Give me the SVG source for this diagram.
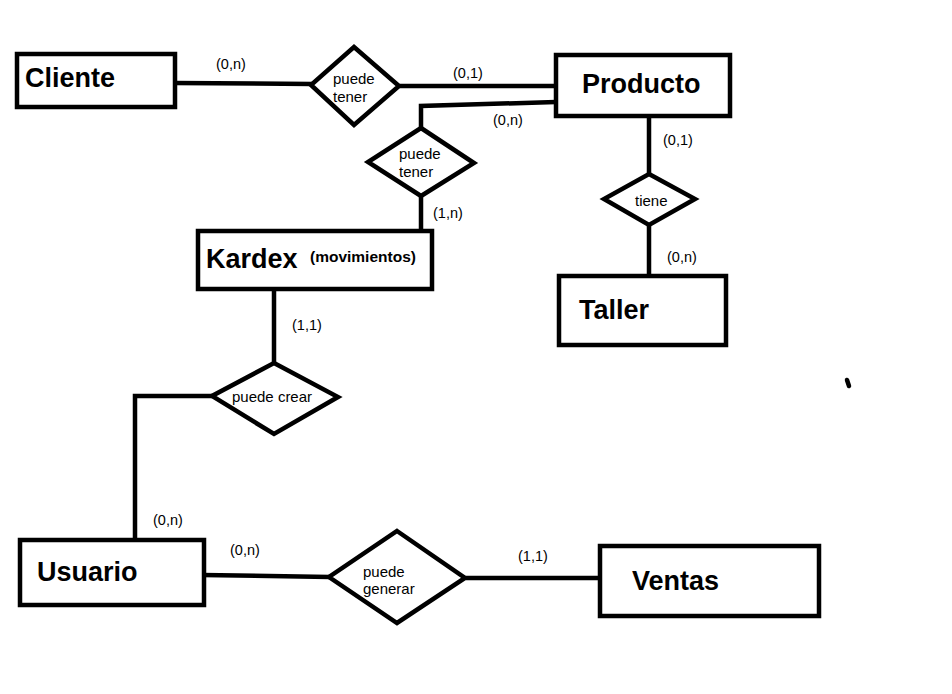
<svg xmlns="http://www.w3.org/2000/svg" width="952" height="694" viewBox="0 0 952 694">
<style>
.box{fill:#fff;stroke:#000;stroke-width:4.5}
.rel{fill:#fff;stroke:#000;stroke-width:4.5;stroke-linejoin:miter}
.ln{fill:none;stroke:#000;stroke-width:4.5;stroke-linecap:round}
.ent{font-family:"Liberation Sans",Arial,sans-serif;font-weight:bold;font-size:27px;fill:#000}
.sub{font-family:"Liberation Sans",Arial,sans-serif;font-weight:bold;font-size:15.5px;fill:#000}
.rt{font-family:"Liberation Sans",Arial,sans-serif;font-size:15px;fill:#000}
.card{font-family:"Liberation Sans",Arial,sans-serif;font-size:14.5px;fill:#000}
</style>
<rect width="952" height="694" fill="#fff"/>
<g id="connectors">
<path class="ln" d="M174,83 L312,84"/>
<path class="ln" d="M400,86 L556,86"/>
<path class="ln" d="M556,102 L421,106 L421,128"/>
<path class="ln" d="M421,197 L421,230"/>
<path class="ln" d="M649,118 L649,174"/>
<path class="ln" d="M649,226 L649,275"/>
<path class="ln" d="M274,289 L274,362"/>
<path class="ln" d="M212,396 L135,396 L135,540"/>
<path class="ln" d="M202,575 L330,577"/>
<path class="ln" d="M466,578 L600,578"/>
<path class="ln" d="M847,380 L849,386"/>
</g>
<g id="cliente">
<rect class="box" x="17" y="54" width="158" height="53"/>
<text class="ent" x="25" y="87">Cliente</text>
</g>
<g id="producto">
<rect class="box" x="556" y="55" width="174" height="61"/>
<text class="ent" x="582" y="93">Producto</text>
</g>
<g id="kardex">
<rect class="box" x="198" y="231" width="234" height="58"/>
<text class="ent" x="206" y="268">Kardex</text>
<text class="sub" x="310" y="262">(movimientos)</text>
</g>
<g id="taller">
<rect class="box" x="559" y="276" width="167" height="69"/>
<text class="ent" x="579" y="319">Taller</text>
</g>
<g id="usuario">
<rect class="box" x="20" y="540" width="184" height="65"/>
<text class="ent" x="37" y="581">Usuario</text>
</g>
<g id="ventas">
<rect class="box" x="600" y="546" width="219" height="70"/>
<text class="ent" x="632" y="590">Ventas</text>
</g>
<g id="rel-cliente-producto">
<polygon class="rel" points="354,47 399,86 354,125 311,85"/>
<text class="rt" x="333" y="84">puede</text>
<text class="rt" x="333" y="102">tener</text>
</g>
<g id="rel-producto-kardex">
<polygon class="rel" points="421,128 474,163 421,196 368,162"/>
<text class="rt" x="399" y="159">puede</text>
<text class="rt" x="399" y="177">tener</text>
</g>
<g id="rel-producto-taller">
<polygon class="rel" points="649,174 695,199 649,225 604,199"/>
<text class="rt" x="635" y="206">tiene</text>
</g>
<g id="rel-kardex-usuario">
<polygon class="rel" points="274,363 338,397 274,434 212,396"/>
<text class="rt" x="232" y="402">puede crear</text>
</g>
<g id="rel-usuario-ventas">
<polygon class="rel" points="397,531 465,578 397,623 329,577"/>
<text class="rt" x="363" y="577">puede</text>
<text class="rt" x="363" y="594">generar</text>
</g>
<g id="cardinalities">
<text class="card" x="216" y="69">(0,n)</text>
<text class="card" x="453" y="78">(0,1)</text>
<text class="card" x="493" y="125">(0,n)</text>
<text class="card" x="433" y="218">(1,n)</text>
<text class="card" x="663" y="145">(0,1)</text>
<text class="card" x="667" y="262">(0,n)</text>
<text class="card" x="292" y="330">(1,1)</text>
<text class="card" x="153" y="525">(0,n)</text>
<text class="card" x="230" y="555">(0,n)</text>
<text class="card" x="518" y="561">(1,1)</text>
</g>
</svg>
